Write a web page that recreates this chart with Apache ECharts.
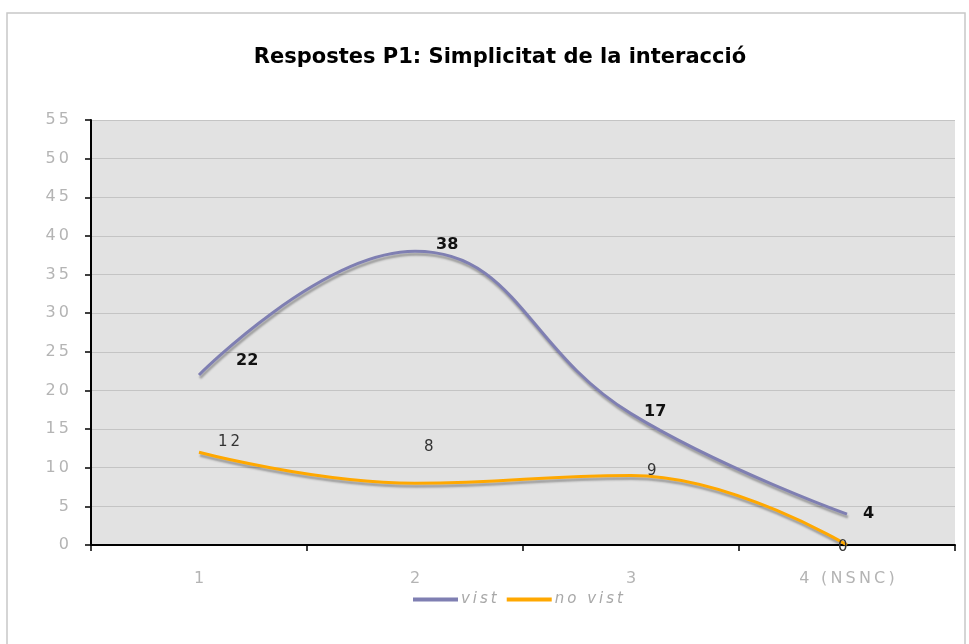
<!DOCTYPE html>
<html>
<head>
<meta charset="utf-8">
<script src="https://cdn.jsdelivr.net/npm/echarts@6/dist/echarts.min.js"></script>
<style>
  html, body { margin: 0; padding: 0; background: #fff; }
  #chart { width: 969px; height: 644px; }
</style>
</head>
<body>
<div id="chart"></div>
<script>
const categories = ['1', '2', '3', '4 (NSNC)'];
const vist = [22, 38, 17, 4];
const noVist = [12, 8, 9, 0];

// label offsets per point (layout only)
const vistLabelOffsets = [[32, -14], [16, -7], [8, -2], [11, 0]];
const noVistLabelOffsets = [[14, -10], [4, -36], [11, -4], [-14, 2]];

const spaced = s => String(s).split('').join('\u2009');

function withLabels(values, offsets) {
  return values.map((v, i) => ({
    value: v,
    label: { offset: offsets[i] }
  }));
}

const chart = echarts.init(document.getElementById('chart'));

const lineShadow = {
  shadowColor: 'rgba(0,0,0,0.3)', shadowOffsetX: 1, shadowOffsetY: 3, shadowBlur: 2
};

chart.setOption({
  animation: false,
  title: {
    text: 'Respostes P1: Simplicitat de la interacció',
    left: 495,
    textAlign: 'center',
    top: 42,
    textStyle: { fontFamily: 'DejaVu Sans', fontSize: 21, fontWeight: 'bold', color: '#000' }
  },
  graphic: [{
    type: 'rect',
    shape: { x: 7, y: 13, width: 958, height: 640 },
    style: { fill: 'none', stroke: '#c8c8c8', lineWidth: 1.5 },
    silent: true
  }],
  legend: {
    left: 408,
    top: 587,
    itemWidth: 45,
    itemHeight: 4,
    itemGap: 10,
    icon: 'rect',
    formatter: name => spaced(name),
    textStyle: { fontFamily: 'DejaVu Sans', fontSize: 15, fontStyle: 'italic', color: '#a8a8a8', padding: [0, 0, 0, -2] },
    data: ['vist', 'no vist']
  },
  grid: {
    left: 91, right: 14, top: 120, bottom: 99,
    show: true, backgroundColor: '#e2e2e2', borderWidth: 0
  },
  xAxis: {
    type: 'category',
    data: categories,
    boundaryGap: true,
    axisLine: { lineStyle: { color: '#000', width: 2 } },
    axisTick: { show: true, length: 6, lineStyle: { color: '#000', width: 1.5 } },
    axisLabel: {
      color: '#b4b4b4', fontFamily: 'DejaVu Sans', fontSize: 16, margin: 26,
      formatter: v => spaced(v)
    },
    splitLine: { show: false }
  },
  yAxis: {
    type: 'value',
    min: 0, max: 55, interval: 5,
    axisLine: { show: true, lineStyle: { color: '#000', width: 2 } },
    axisTick: { show: true, length: 6, lineStyle: { color: '#000', width: 1.5 } },
    axisLabel: {
      color: '#b4b4b4', fontFamily: 'DejaVu Sans', fontSize: 16, margin: 22,
      formatter: v => spaced(v)
    },
    splitLine: { lineStyle: { color: '#c4c4c4', width: 1 } }
  },
  series: [
    {
      name: 'vist',
      type: 'line',
      smooth: 0.45,
      symbol: 'circle',
      symbolSize: 0,
      data: withLabels(vist, vistLabelOffsets),
      itemStyle: { color: '#7f7fb2' },
      lineStyle: Object.assign({ color: '#7f7fb2', width: 3 }, lineShadow),
      label: {
        show: true, position: 'right',
        fontFamily: 'DejaVu Sans', fontSize: 16, fontWeight: 'bold', color: '#111'
      }
    },
    {
      name: 'no vist',
      type: 'line',
      smooth: 0.45,
      symbol: 'circle',
      symbolSize: 0,
      data: withLabels(noVist, noVistLabelOffsets),
      itemStyle: { color: '#ffa800' },
      lineStyle: Object.assign({ color: '#ffa800', width: 3 }, lineShadow),
      label: {
        show: true, position: 'right',
        fontFamily: 'DejaVu Sans', fontSize: 15, color: '#333',
        formatter: p => spaced(p.value)
      }
    }
  ]
});
</script>
</body>
</html>
